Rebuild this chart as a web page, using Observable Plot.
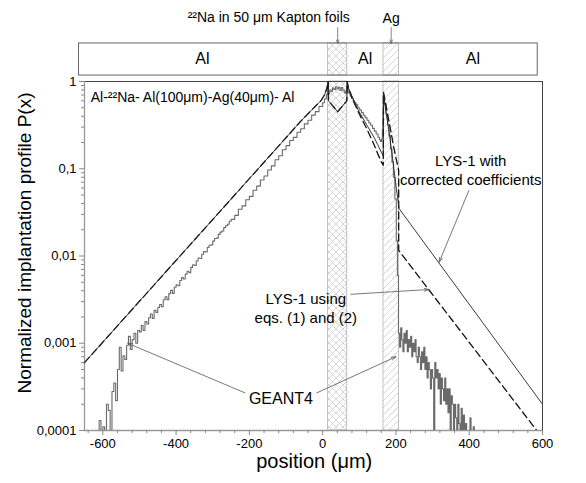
<!DOCTYPE html>
<html><head><meta charset="utf-8">
<script src="https://cdn.jsdelivr.net/npm/d3@7"></script>
<script src="https://cdn.jsdelivr.net/npm/@observablehq/plot@0.6"></script>
<style>body{margin:0;background:#fff;}</style>
</head><body><div id="chart"></div>
<script>
// ---------- axes ----------
const xTicks = [-600, -400, -200, 0, 200, 400, 600];
const xMinor = [-640,-560,-520,-480,-440,-360,-320,-280,-240,-160,-120,-80,-40,40,80,120,160,240,280,320,360,440,480,520,560];
const yTicks = [1, 0.1, 0.01, 0.001, 0.0001];
const yTickLabels = ["1", "0,1", "0,01", "0,001", "0,0001"];
const yMinor = [];
for (let e = -4; e < 0; e++) for (let m = 2; m < 10; m++) yMinor.push(m * Math.pow(10, e));

// ---------- layers (µm) ----------
const layerNames = ["Kapton", "Ag"];
const layerX1 = [15, 166];
const layerX2 = [67, 208];
const headerLabels = ["Al", "Al", "Al"];
const headerLabelX = [-328, 116, 410];

// ---------- LYS-1 with corrected coefficients (solid) ----------
const lysCorrX = [-650, -114, -60, -20, -5, 5, 12, 15, 16, 41, 66, 67, 70, 82, 97, 120, 140, 150, 160, 165.5, 166, 171, 181, 191, 201, 208.5, 600];
const lysCorrY = [0.0006, 0.195, 0.35, 0.52, 0.6, 0.7, 0.85, 1.0, 0.6, 0.45, 0.6, 1.0, 0.85, 0.65, 0.47, 0.32, 0.23, 0.19, 0.155, 0.14, 0.75, 0.5, 0.27, 0.13, 0.06, 0.035, 0.0002];

// ---------- LYS-1 using eqs. (1) and (2) (dashed) ----------
const lysEqX = [-650, -114, -60, -20, -5, 5, 12, 15, 16, 41, 66, 67, 70, 82, 97, 120, 140, 150, 160, 165.5, 166, 176, 186, 196, 207.5, 207.5, 600];
const lysEqY = [0.0006, 0.195, 0.35, 0.52, 0.6, 0.7, 0.85, 1.0, 0.6, 0.45, 0.6, 1.0, 0.85, 0.62, 0.45, 0.29, 0.19, 0.15, 0.12, 0.11, 0.75, 0.45, 0.27, 0.16, 0.096, 0.0116, 0.000082];

// ---------- GEANT4 histogram (0.00003 = empty bin) ----------
const geantX = [
 -625,-620,-615,-610,-605,-600,-595,-590,-585,-580,-575,-570,-565,-560,-555,-550,-545,-540,-535,-530,-525,-520,-515,-510,-505,
 -500,-495,-490,-485,-480,-475,-470,-465,-460,-455,-450,-445,-440,-435,-430,-425,-420,-415,-410,-405,
 -400,-395,-390,-385,-380,-375,-370,-365,-360,-355,-350,-345,-340,-335,-330,-325,-320,-315,-310,-305,
 -300,-295,-290,-285,-280,-275,-270,-265,-260,-255,-250,
 -240,-230,-220,-210,-200,-190,-180,-170,-160,-150,-140,-130,-120,-110,-100,-90,-80,-70,-60,-50,-40,-30,-20,-10,0,5,10,13,14,
 15.5,19,23,27,31,35,39,43,47,51,55,59,63,66,68,71,75,79,83,87,91,96,101,106,111,116,121,126,131,136,141,146,151,155,158,161,163,164.5,165.5,
 167,169,173,177,181,185,189,193,197,201,204,
 207,210,213,216,219,222,225,228,231,234,237,240,243,246,249,252,255,258,261,264,267,270,273,276,279,282,285,288,291,294,297,300,
 303,306,309,312,315,318,321,324,327,330,333,336,339,342,345,348,351,354,357,360,363,366,369,372,375,378,381,384,387,390,393,402,405,411,414,422];
const geantY = [
 0.00003,0.00003,0.00003,0.00013,0.00003,0.00011,0.00003,0.0002,0.00017,0.00003,0.00028,0.00035,0.00022,0.0005,0.0009,0.00048,0.00072,0.00065,0.00095,0.0012,0.00085,0.0011,0.0013,0.001,0.0014,
 0.00135,0.0016,0.0014,0.00177,0.00166,0.00196,0.00216,0.00192,0.00238,0.00225,0.00257,0.00278,0.00262,0.00315,0.00341,0.00316,0.0037,0.00404,0.00373,0.00438,
 0.00469,0.00456,0.00524,0.00565,0.00544,0.0062,0.0067,0.00645,0.0074,0.00793,0.00778,0.00877,0.00949,0.00938,0.01047,0.01122,0.01112,0.01252,0.01327,0.01341,
 0.01481,0.01588,0.01604,0.01769,0.01878,0.01934,0.02117,0.02225,0.0231,0.02502,0.0263,
 0.0292,0.0344,0.0375,0.0442,0.0483,0.0568,0.0632,0.0742,0.0826,0.0968,0.108,0.127,0.141,0.165,0.184,0.211,0.229,0.262,0.287,0.327,0.359,0.412,0.451,0.518,0.57,0.63,0.71,0.88,1.0,
 0.72,0.8,0.77,0.84,0.81,0.87,0.82,0.86,0.79,0.85,0.8,0.74,0.78,0.95,0.82,0.74,0.68,0.64,0.6,0.57,0.54,0.5,0.47,0.44,0.41,0.385,0.36,0.335,0.315,0.29,0.27,0.25,0.23,0.215,0.205,0.22,0.28,0.45,0.7,
 0.62,0.55,0.42,0.32,0.24,0.17,0.12,0.08,0.045,0.015,0.006,
 0.0013,0.0009,0.0015,0.0011,0.0008,0.0013,0.001,0.0014,0.0008,0.0011,0.0009,0.0012,0.0007,0.001,0.0008,0.0011,0.0007,0.0006,0.0009,0.0007,0.0005,0.0008,0.0006,0.0009,0.0005,0.0007,0.0004,0.0006,0.0005,0.0003,0.0005,0.0004,
 0.00003,0.0006,0.0004,0.0005,0.0003,0.00045,0.0002,0.0004,0.0003,0.00022,0.0004,0.0002,0.0003,0.00016,0.0003,0.00003,0.00025,0.0002,0.00003,0.0002,0.00014,0.00003,0.0002,0.00012,0.00003,0.00018,0.00003,0.00015,0.00003,0.00012,0.00003,0.00014,0.00003,0.00011,0.00003,0.00003];

// ---------- annotations ----------
const notesCenter = [
  {t: "LYS-1 with\ncorrected coefficients", x: 404, y: 0.098, size: 15},
  {t: "LYS-1 using\neqs. (1) and (2)", x: -46, y: 0.00258, size: 15},
  {t: "GEANT4", x: -114, y: 0.00024, size: 16},
  {t: "Ag", x: 187, y: 5.4, size: 14}
];
const notesStart = [
  {t: "Al-\u00b2\u00b2Na- Al(100\u03bcm)-Ag(40\u03bcm)- Al", x: -633, y: 0.655, size: 14}
];
const notesEnd = [
  {t: "\u00b2\u00b2Na in 50 \u03bcm Kapton foils", x: 74, y: 5.4, size: 14}
];
const pointers = [
  {x1: 399, y1: 0.0563, x2: 318, y2: 0.0085},
  {x1: 77, y1: 0.00364, x2: 290, y2: 0.00413},
  {x1: -212, y1: 0.00027, x2: -532, y2: 0.001},
  {x1: -16, y1: 0.00027, x2: 200, y2: 0.0007}
];
const headerArrows = [
  {x: 41, y1: 4.14, y2: 2.73},
  {x: 187, y1: 4.14, y2: 2.73}
];
const header = {x1: -665, x2: 587, y1: 1.17, y2: 2.73};

const toRows = (xs, ys) => xs.map((x, i) => ({x, y: ys[i]}));
const geant = toRows(geantX, geantY);
const lysCorr = toRows(lysCorrX, lysCorrY);
const lysEq = toRows(lysEqX, lysEqY);
const layers = layerNames.map((n, i) => ({n, x1: layerX1[i], x2: layerX2[i], fill: i === 0 ? "url(#hatchX)" : "url(#hatchD)"}));

const chart = Plot.plot({
  width: 586, height: 483,
  marginLeft: 84, marginRight: 44, marginTop: 81, marginBottom: 53,
  style: {fontFamily: "'Liberation Sans', Arial, Helvetica, sans-serif", background: "white", color: "black", overflow: "visible"},
  x: {domain: [-650, 600], axis: null},
  y: {type: "log", domain: [0.0001, 1], axis: null},
  marks: [
    Plot.rect(layers, {x1: "x1", x2: "x2", y1: 0.0001, y2: 1, fill: "fill", stroke: "#b0b0b0", strokeWidth: 0.8}),
    Plot.rect(layers, {x1: "x1", x2: "x2", y1: header.y1, y2: header.y2, fill: "fill", stroke: "#b0b0b0", strokeWidth: 0.8}),
    Plot.rect([header], {x1: "x1", x2: "x2", y1: "y1", y2: "y2", fill: "none", stroke: "#666", strokeWidth: 1}),
    Plot.text(headerLabels, {x: (d, i) => headerLabelX[i], y: 1.8, text: d => d, fontSize: 16}),
    Plot.arrow(headerArrows, {x1: "x", x2: "x", y1: "y1", y2: "y2", stroke: "#666", strokeWidth: 0.8, headLength: 7, headAngle: 40}),
    Plot.frame({stroke: "#444", strokeWidth: 1}),
    Plot.ruleX([-650], {stroke: "#999", strokeWidth: 1.3}),
    Plot.ruleY([0.0001], {stroke: "#999", strokeWidth: 1.3}),
    Plot.line(geant, {x: "x", y: "y", curve: "step-after", stroke: "#6a6a6a", strokeWidth: 1.1, clip: true}),
    Plot.line(lysEq, {x: "x", y: "y", stroke: "#111", strokeWidth: 1.3, strokeDasharray: "7,4", clip: true}),
    Plot.line(lysCorr, {x: "x", y: "y", stroke: "#222", strokeWidth: 0.9, clip: true}),
    Plot.axisX(xTicks, {anchor: "bottom", tickSize: 5, tickPadding: 3, fontSize: 13, stroke: "#888", fill: "black", label: null, tickFormat: d => String(d)}),
    Plot.axisX(xMinor, {anchor: "bottom", tickSize: 3, fontSize: 13, stroke: "#888", label: null, tickFormat: () => ""}),
    Plot.axisY(yTicks, {anchor: "left", tickSize: 5, tickPadding: 3, fontSize: 13, stroke: "#888", fill: "black", label: null, tickFormat: d => yTickLabels[yTicks.indexOf(d)]}),
    Plot.axisY(yMinor, {anchor: "left", tickSize: 3, stroke: "#888", label: null, tickFormat: () => ""}),
    Plot.text([{t: "Normalized implantation profile P(x)", y: 0.0141}], {text: "t", y: "y", frameAnchor: "left", dx: -60, rotate: -90, textAnchor: "middle", fontSize: 19}),
    Plot.text([{t: "position (\u03bcm)", x: -23}], {text: "t", x: "x", frameAnchor: "bottom", dy: 37, textAnchor: "middle", fontSize: 20}),
    Plot.text(notesCenter, {x: "x", y: "y", text: "t", fontSize: "size", textAnchor: "middle", lineHeight: 1.3}),
    Plot.text(notesStart, {x: "x", y: "y", text: "t", fontSize: "size", textAnchor: "start"}),
    Plot.text(notesEnd, {x: "x", y: "y", text: "t", fontSize: "size", textAnchor: "end"}),
    Plot.arrow(pointers, {x1: "x1", y1: "y1", x2: "x2", y2: "y2", stroke: "#555", strokeWidth: 0.8, headLength: 9, headAngle: 36})
  ]
});

const ns = "http://www.w3.org/2000/svg";
const defs = document.createElementNS(ns, "defs");
defs.innerHTML = '<pattern id="hatchX" width="7" height="7" patternUnits="userSpaceOnUse"><path d="M0,0L7,7M7,0L0,7" stroke="#c4c4c4" stroke-width="0.7" fill="none"/></pattern>' +
  '<pattern id="hatchD" width="7" height="7" patternUnits="userSpaceOnUse"><path d="M-1,8L8,-1M-1,1L1,-1M6,8L8,6" stroke="#c4c4c4" stroke-width="0.7" fill="none"/></pattern>';
chart.insertBefore(defs, chart.firstChild);
document.getElementById("chart").appendChild(chart);
</script>
</body></html>
